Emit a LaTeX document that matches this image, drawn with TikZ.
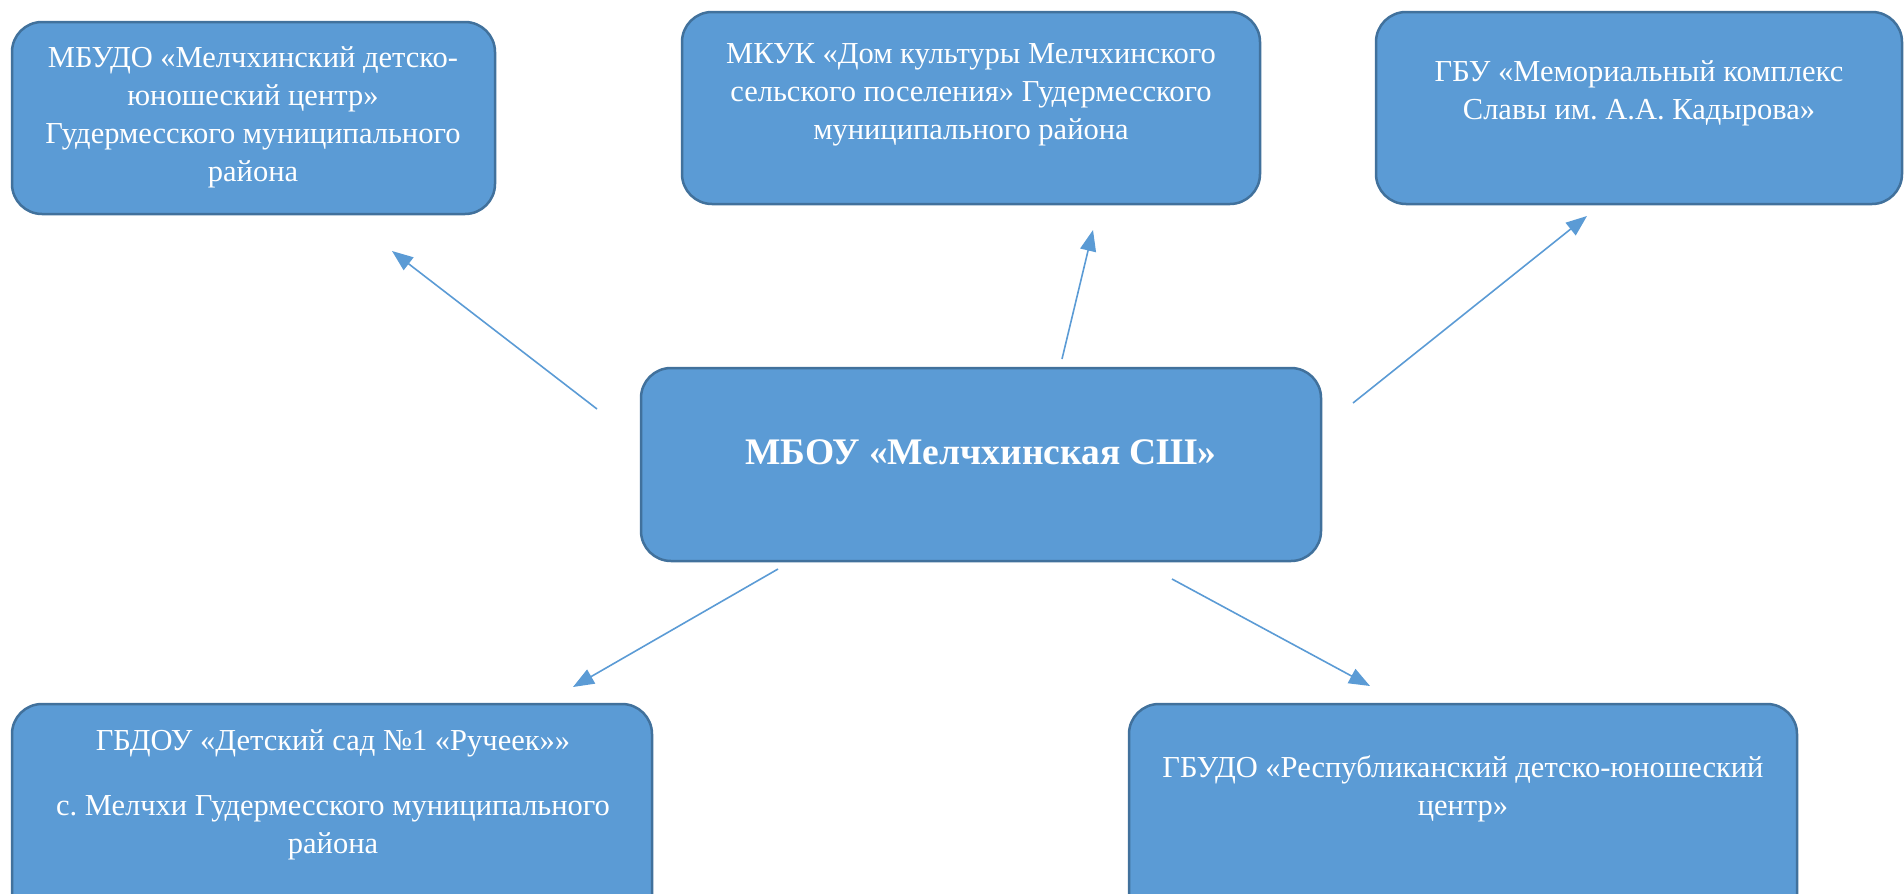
\documentclass[tikz,border=0pt]{standalone}
\usepackage{fontspec}
\setmainfont{Liberation Serif}
\usetikzlibrary{arrows.meta,calc}
\definecolor{boxfill}{HTML}{5B9BD5}
\definecolor{boxline}{HTML}{41719C}
\frenchspacing
\begin{document}
\begin{tikzpicture}[x=1pt,y=-1pt,
  box/.style={draw=boxline, line width=2.5pt, fill=boxfill, rounded corners=30pt, rectangle, inner sep=0pt},
  txt/.style={text=white, align=center, font=\fontsize{30.5}{38}\selectfont, inner sep=0pt},
  bigtxt/.style={text=white, align=center, font=\fontsize{37.5}{44}\selectfont\bfseries, inner sep=0pt},
  link/.style={draw=boxfill, line width=1.6pt, -{Triangle[length=21pt,width=16pt]}}]
\useasboundingbox (0,0) rectangle (1904,894);
% boxes
\node[box, minimum width=483pt, minimum height=192pt] (b1) at (253.5,118) {};
\node[box, minimum width=578pt, minimum height=192pt] (b2) at (971,108) {};
\node[box, minimum width=526pt, minimum height=192pt] (b3) at (1639,108) {};
\node[box, minimum width=680pt, minimum height=193pt] (c) at (981,464.5) {};
\node[box, minimum width=640pt, minimum height=230pt] (b4) at (332,819) {};
\node[box, minimum width=668pt, minimum height=230pt] (b5) at (1463,819) {};
% texts
\node[txt] (t1) at (253,117) {МБУДО «Мелчхинский детско-\\юношеский центр»\\Гудермесского муниципального\\района};
\node[txt] (t2) at (971,95) {МКУК «Дом культуры Мелчхинского\\сельского поселения» Гудермесского\\муниципального района};
\node[txt] (t3) at (1639,93.5) {ГБУ «Мемориальный комплекс\\Славы им. А.А. Кадырова»};
\node[bigtxt] (tc) at (981,452) {МБОУ «Мелчхинская СШ»};
\node[txt] (t4) at (333,795) {ГБДОУ «Детский сад №1 «Ручеек»»\\[27pt]с. Мелчхи Гудермесского муниципального\\района};
\node[txt] (t5) at (1463,789) {ГБУДО «Республиканский детско-юношеский\\центр»};
% arrow ends
\coordinate (s1) at (597,409); \coordinate (e1) at (392,251);
\coordinate (s2) at (1062,359); \coordinate (e2) at (1093,230);
\coordinate (s3) at (1353,403); \coordinate (e3) at (1587,216);
\coordinate (s4) at (778,569); \coordinate (e4) at (573,687);
\coordinate (s5) at (1172,579); \coordinate (e5) at (1370,686);
\draw[link] (s1) -- (e1);
\draw[link] (s2) -- (e2);
\draw[link] (s3) -- (e3);
\draw[link] (s4) -- (e4);
\draw[link] (s5) -- (e5);
\end{tikzpicture}
\end{document}
